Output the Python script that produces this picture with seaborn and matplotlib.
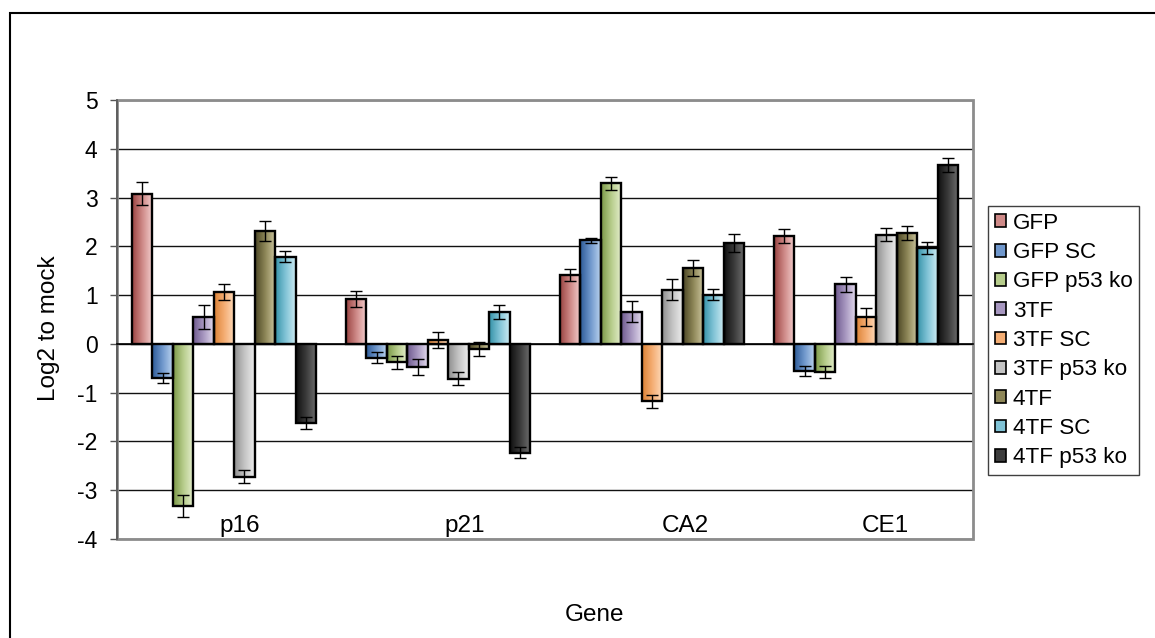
import numpy as np
import pandas as pd
import matplotlib
matplotlib.use("Agg")
import matplotlib.pyplot as plt
from matplotlib.colors import LinearSegmentedColormap
from matplotlib.patches import Patch, Rectangle
import seaborn as sns

# Genes and sample conditions
genes = ["p16", "p21", "CA2", "CE1"]
conditions = ["GFP", "GFP SC", "GFP p53 ko", "3TF", "3TF SC",
              "3TF p53 ko", "4TF", "4TF SC", "4TF p53 ko"]

# Log2 fold change to mock, one list per condition (order: p16, p21, CA2, CE1)
gfp = [3.08, 0.92, 1.41, 2.21]
gfp_sc = [-0.70, -0.28, 2.12, -0.55]
gfp_p53ko = [-3.32, -0.38, 3.29, -0.58]
tf3 = [0.55, -0.48, 0.66, 1.22]
tf3_sc = [1.06, 0.08, -1.18, 0.55]
tf3_p53ko = [-2.72, -0.71, 1.11, 2.24]
tf4 = [2.31, -0.11, 1.55, 2.27]
tf4_sc = [1.79, 0.65, 1.01, 1.96]
tf4_p53ko = [-1.62, -2.23, 2.07, 3.67]

# Error bar half-widths
gfp_err = [0.24, 0.16, 0.12, 0.14]
gfp_sc_err = [0.10, 0.11, 0.06, 0.10]
gfp_p53ko_err = [0.22, 0.14, 0.14, 0.12]
tf3_err = [0.25, 0.16, 0.21, 0.16]
tf3_sc_err = [0.16, 0.16, 0.14, 0.18]
tf3_p53ko_err = [0.13, 0.13, 0.22, 0.14]
tf4_err = [0.21, 0.14, 0.16, 0.14]
tf4_sc_err = [0.12, 0.14, 0.12, 0.12]
tf4_p53ko_err = [0.13, 0.11, 0.18, 0.14]

yticks = [-4, -3, -2, -1, 0, 1, 2, 3, 4, 5]

series = [gfp, gfp_sc, gfp_p53ko, tf3, tf3_sc, tf3_p53ko, tf4, tf4_sc, tf4_p53ko]
errors = [gfp_err, gfp_sc_err, gfp_p53ko_err, tf3_err, tf3_sc_err,
          tf3_p53ko_err, tf4_err, tf4_sc_err, tf4_p53ko_err]

# Shaded fills: dark edge on the left fading to a light tone on the right
dark = ["#9a4442", "#2d5b98", "#7b9847", "#6f5a8f", "#dc8236",
        "#8e8e8e", "#4c4726", "#3592a8", "#101010"]
light = ["#f4d0cf", "#b9d2ee", "#e6efcf", "#e1d9ec", "#ffdcbd",
         "#ececec", "#cdc7a0", "#cbeaf2", "#707070"]
mid = ["#cf8a88", "#6f97cc", "#b7cd8c", "#a797c0", "#f5ae74",
       "#c4c4c4", "#8e8758", "#80c3d6", "#3c3c3c"]

rows = []
for cond, vals in zip(conditions, series):
    for g, v in zip(genes, vals):
        rows.append({"Gene": g, "Condition": cond, "Value": v})
df = pd.DataFrame(rows)

sns.set_style("white")
plt.rcParams["font.family"] = ["Liberation Sans", "DejaVu Sans"]
plt.rcParams["text.color"] = "black"
plt.rcParams["axes.labelcolor"] = "black"
plt.rcParams["xtick.color"] = "black"
plt.rcParams["ytick.color"] = "black"

W, H = 1155, 638
fig = plt.figure(figsize=(W / 100, H / 100), dpi=100)
ax = fig.add_axes([117 / W, 1 - 539 / H, (973 - 117) / W, (539 - 100) / H])

group_width = 0.86
sns.barplot(data=df, x="Gene", y="Value", hue="Condition",
            order=genes, hue_order=conditions, palette=mid,
            width=group_width, gap=0, errorbar=None, legend=False,
            edgecolor="black", linewidth=1.7, ax=ax)

# Gradient fill clipped to each bar
grad = np.linspace(0, 1, 64).reshape(1, -1)
cmaps = [LinearSegmentedColormap.from_list(f"c{i}", [dark[i], mid[i], light[i]])
         for i in range(len(conditions))]
step = group_width / len(conditions)
err_x = [[None] * len(genes) for _ in conditions]
for bar in list(ax.patches):
    x0 = bar.get_x()
    w = bar.get_width()
    y0 = bar.get_y()
    h = bar.get_height()
    xc = x0 + w / 2
    k = int(round(xc))
    i = int(round((xc - k + group_width / 2) / step - 0.5))
    if not (0 <= i < len(conditions)) or not (0 <= k < len(genes)):
        continue
    im = ax.imshow(grad, cmap=cmaps[i], aspect="auto", interpolation="bilinear",
                   extent=[x0, x0 + w, min(y0, y0 + h), max(y0, y0 + h)],
                   zorder=2.5)
    im.set_clip_path(bar)
    bar.set_facecolor("none")
    bar.set_zorder(3)
    err_x[i][k] = xc

for i in range(len(conditions)):
    xs = [err_x[i][k] for k in range(len(genes)) if err_x[i][k] is not None]
    ys = [series[i][k] for k in range(len(genes)) if err_x[i][k] is not None]
    es = [errors[i][k] for k in range(len(genes)) if err_x[i][k] is not None]
    ax.errorbar(xs, ys, yerr=es, fmt="none", ecolor="black",
                elinewidth=1.0, capsize=4, capthick=1.0, zorder=4)

ax.set_xlim(-0.5, len(genes) - 0.5)
ax.set_ylim(yticks[0], yticks[-1])
ax.set_yticks(yticks)
ax.set_yticklabels([str(t) for t in yticks], fontsize=16.5)

# Horizontal gridlines
ax.set_axisbelow(True)
ax.yaxis.grid(True, color="#111111", linewidth=1.0)
ax.xaxis.grid(False)

# Category axis crossing at zero with tick marks between groups
for s in ["top", "right"]:
    ax.spines[s].set_visible(False)
ax.spines["bottom"].set_position(("data", 0))
ax.spines["bottom"].set_color("black")
ax.spines["bottom"].set_linewidth(1.2)
ax.spines["bottom"].set_zorder(3.5)
ax.spines["left"].set_color("#555555")
ax.spines["left"].set_linewidth(1.2)
ax.set_xticks(np.arange(len(genes) + 1) - 0.5)
ax.set_xticklabels([])
ax.tick_params(axis="x", direction="out", length=6, width=1, color="black")
ax.tick_params(axis="y", direction="out", length=5, width=1, color="#555555",
               labelcolor="black", pad=9, left=True)
ax.set_xlabel("")
ax.set_ylabel("")

# Plot-area border
ax.add_patch(Rectangle((0, 0), 1, 1, transform=ax.transAxes, fill=False,
                       edgecolor="#8c8c8c", linewidth=2, zorder=1.5,
                       clip_on=False))

# Gene names along the bottom of the plot area
label_shift = [0.075, 0.125, 0.155, 0.09]
trans = ax.get_xaxis_transform()
for k, g in enumerate(genes):
    ax.text(k + label_shift[k], 0.03, g, transform=trans, ha="center",
            va="center", fontsize=17.5, color="black")

fig.text(49 / W, 1 - 328 / H, "Log2 to mock", rotation=90,
         ha="center", va="center", fontsize=17.5, color="black")
fig.text(595 / W, 1 - 615 / H, "Gene", ha="center", va="center",
         fontsize=17.5, color="black")

handles = [Patch(facecolor=mid[i], edgecolor="black", linewidth=1.2)
           for i in range(len(conditions))]
leg = ax.legend(handles, conditions, loc="upper left",
                bbox_to_anchor=(988 / W, 1 - 206 / H),
                bbox_transform=fig.transFigure, fontsize=16.2,
                frameon=True, fancybox=False, framealpha=1,
                edgecolor="#404040", borderpad=0.3, borderaxespad=0,
                handlelength=0.5, handleheight=0.5, handletextpad=0.3,
                labelspacing=0.37)
leg.get_frame().set_linewidth(1.0)
for t in leg.get_texts():
    t.set_color("black")

# Outer chart frame
fig.patches.append(Rectangle((10 / W, -0.1), 1.2, 1.1 - 13 / H,
                             transform=fig.transFigure, fill=False,
                             edgecolor="black", linewidth=1.5))

fig.savefig("out.png", dpi=100)
